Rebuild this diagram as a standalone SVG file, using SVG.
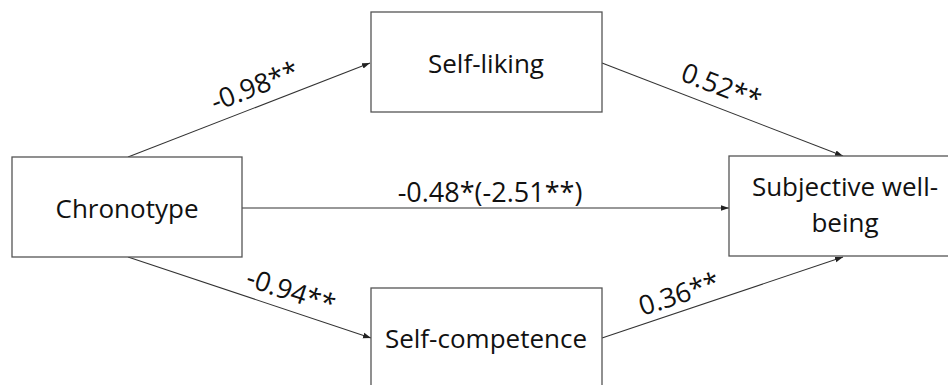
<svg xmlns="http://www.w3.org/2000/svg" width="948" height="385" viewBox="0 0 948 385">
<style>
.box{fill:#fff;stroke:#555;stroke-width:1.3}
.t{font-family:"Open Sans","Liberation Sans",sans-serif;font-size:26px;fill:#111;text-anchor:middle}
.l{font-size:27px}
.c{stroke:#333;stroke-width:1.1;fill:none;marker-end:url(#ah)}
</style>
<defs>
<marker id="ah" viewBox="0 0 10 10" refX="10" refY="5" markerWidth="8" markerHeight="8" markerUnits="userSpaceOnUse" orient="auto">
<path d="M0,1.5 L10,5 L0,8.5 z" fill="#222"/>
</marker>
</defs>
<rect width="948" height="385" fill="#fff"/>
<g id="connectors">
<line class="c" x1="128" y1="157" x2="370" y2="63"/>
<line class="c" x1="602" y1="63" x2="843" y2="156"/>
<line class="c" x1="242" y1="208" x2="729" y2="208"/>
<line class="c" x1="128" y1="257" x2="371" y2="338"/>
<line class="c" x1="602" y1="338" x2="843" y2="257"/>
<text class="t l" transform="translate(258,95) rotate(-21.3)">-0.98**</text>
<text class="t l" transform="translate(718,95) rotate(21)">0.52**</text>
<text class="t l" x="490" y="202">-0.48*(-2.51**)</text>
<text class="t l" transform="translate(288,300) rotate(18.3)">-0.94**</text>
<text class="t l" transform="translate(682,303) rotate(-18.4)">0.36**</text>
</g>
<g id="chronotype">
<rect class="box" x="12" y="157" width="230" height="100"/>
<text class="t" x="127" y="218">Chronotype</text>
</g>
<g id="self-liking">
<rect class="box" x="371" y="12" width="231" height="100"/>
<text class="t" x="486" y="73">Self-liking</text>
</g>
<g id="self-competence">
<rect class="box" x="371" y="288" width="231" height="100"/>
<text class="t" x="486" y="348">Self-competence</text>
</g>
<g id="subjective-well-being">
<rect class="box" x="729" y="156" width="232" height="100"/>
<text class="t" x="845" y="196">Subjective well-</text>
<text class="t" x="845" y="232">being</text>
</g>
</svg>
